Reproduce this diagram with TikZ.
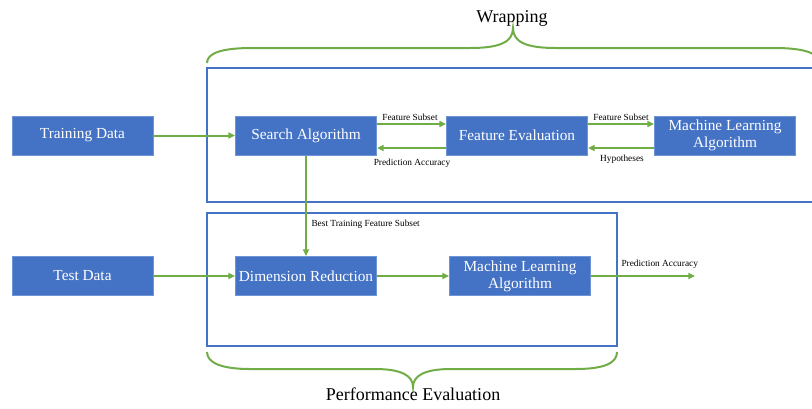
\documentclass[tikz,border=0pt]{standalone}
\usepackage{fontspec}
\setmainfont{Liberation Serif}
\usetikzlibrary{arrows.meta}

\definecolor{boxblue}{RGB}{68,114,196}
\definecolor{edgeblue}{RGB}{110,150,215}
\definecolor{flowgreen}{RGB}{112,173,71}

\tikzset{
	blockbox/.style={fill=boxblue, draw=edgeblue, line width=0.5pt, text=white, align=center,
		minimum width=106pt, minimum height=29.5pt, inner sep=1pt, font=\fontsize{11.5}{13}\selectfont},
	flow/.style={draw=flowgreen, line width=1.5pt, -{Triangle[length=5pt,width=4.5pt]}},
	smalllbl/.style={font=\fontsize{7}{8}\selectfont, inner sep=0pt},
	bracelbl/.style={font=\fontsize{13.5}{15}\selectfont, inner sep=0pt}}
\tikzset{every picture/.style={line width=0.75pt}}

\begin{document}
\begin{tikzpicture}[x=0.75pt,y=0.75pt,yscale=-1,xscale=1]
	\useasboundingbox (0,0) rectangle (812,408);

	%Shape: Rectangle [wrapping frame]
	\draw [draw=boxblue, line width=1.5] (207,67.5) rectangle (830,201.5) ;
	%Shape: Rectangle [evaluation frame]
	\draw [draw=boxblue, line width=1.5] (207,212.5) rectangle (617,345.5) ;

	%Curve Lines [top brace]
	\draw [draw=flowgreen, line width=1.5] (207,63) .. controls (207,53) and (222,48) .. (252,48) -- (470,48) .. controls (500,48) and (513,42) .. (513,28) .. controls (513,42) and (526,48) .. (556,48) -- (774,48) .. controls (804,48) and (819,53) .. (819,63) ;
	%Curve Lines [bottom brace]
	\draw [draw=flowgreen, line width=1.5] (207,352) .. controls (207,363) and (222,369) .. (250,369) -- (375,369) .. controls (402,369) and (413,376) .. (413,387) .. controls (413,376) and (424,369) .. (451,369) -- (576,369) .. controls (604,369) and (617,363) .. (617,352) ;

	% Blocks
	\node [blockbox] (train) at (82.5,135.5) {Training Data};
	\node [blockbox] (search) at (306,135.5) {Search Algorithm};
	\node [blockbox] (feval) at (517,135.5) {Feature Evaluation};
	\node [blockbox] (mltop) at (725,135.5) {Machine Learning\\Algorithm};
	\node [blockbox] (test) at (82.5,276) {Test Data};
	\node [blockbox] (dimred) at (306,276) {Dimension Reduction};
	\node [blockbox] (mlbot) at (520,276) {Machine Learning\\Algorithm};
	\coordinate (out) at (695,276);

	% Connectors (yscale=-1: a negative yshift moves up)
	\draw [flow] (train) -- (search) ;
	\draw [flow] ([yshift=-8.6pt]search.east) -- ([yshift=-8.6pt]feval.west) ;
	\draw [flow] ([yshift=9.4pt]feval.west) -- ([yshift=9.4pt]search.east) ;
	\draw [flow] ([yshift=-8.6pt]feval.east) -- ([yshift=-8.6pt]mltop.west) ;
	\draw [flow] ([yshift=9.4pt]mltop.west) -- ([yshift=9.4pt]feval.east) ;
	\draw [flow] (search) -- (dimred) ;
	\draw [flow] (test) -- (dimred) ;
	\draw [flow] (dimred) -- (mlbot) ;
	\draw [flow] (mlbot) -- (out) ;

	% Text Node
	\node [smalllbl] (fsub1) at (410,117) {Feature Subset};
	% Text Node
	\node [smalllbl] (pacc1) at (412,163) {Prediction Accuracy};
	% Text Node
	\node [smalllbl] (fsub2) at (621,117) {Feature Subset};
	% Text Node
	\node [smalllbl] (hypo) at (622,159) {Hypotheses};
	% Text Node
	\node [smalllbl, anchor=west] (best) at (311,224) {Best Training Feature Subset};
	% Text Node
	\node [smalllbl, anchor=west] (pacc2) at (621,264) {Prediction Accuracy};
	% Text Node
	\node [bracelbl] (wrap) at (512,18) {Wrapping};
	% Text Node
	\node [bracelbl] (perf) at (413,394) {Performance Evaluation};

\end{tikzpicture}
\end{document}
